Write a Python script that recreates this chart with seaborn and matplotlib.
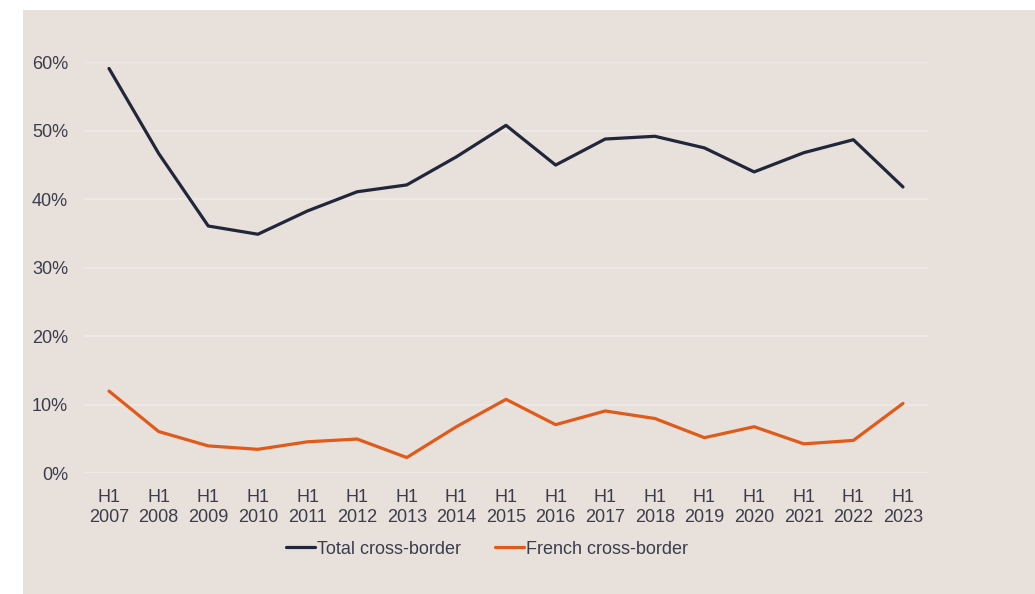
import numpy as np
import pandas as pd
import matplotlib
matplotlib.use("Agg")
import matplotlib.pyplot as plt
import seaborn as sns
from matplotlib.lines import Line2D

years = ["2007", "2008", "2009", "2010", "2011", "2012", "2013", "2014", "2015",
         "2016", "2017", "2018", "2019", "2020", "2021", "2022", "2023"]
tick_labels = ["H1\n" + y for y in years]
total_cross_border = [59.1, 46.7, 36.1, 34.9, 38.3, 41.1, 42.1, 46.2, 50.8,
                      45.0, 48.8, 49.2, 47.5, 44.0, 46.8, 48.7, 41.8]
french_cross_border = [12.0, 6.1, 4.0, 3.5, 4.6, 5.0, 2.3, 6.8, 10.8,
                       7.1, 9.1, 8.0, 5.2, 6.8, 4.3, 4.8, 10.2]
series_names = ["Total cross-border", "French cross-border"]
y_ticks = [0, 10, 20, 30, 40, 50, 60]

BG = "#E7E0DB"
NAVY = "#22263A"
ORANGE = "#E05A1A"
TEXT = "#3C3D4C"
GRID = "#EEEAE6"

df = pd.DataFrame({
    "idx": list(range(len(years))) * 2,
    "value": total_cross_border + french_cross_border,
    "series": [series_names[0]] * len(years) + [series_names[1]] * len(years),
})

sns.set_theme(style="white")
plt.rcParams["font.family"] = ["Liberation Sans", "DejaVu Sans"]

fig = plt.figure(figsize=(10.35, 5.94), dpi=100, facecolor="white")
# beige panel (white strip at top and left)
fig.patches.append(plt.Rectangle((23 / 1035, 0), 1 - 23 / 1035, (594 - 10) / 594,
                                 transform=fig.transFigure, facecolor=BG,
                                 edgecolor="none", zorder=-10))

left = 84.2 / 1035
right = 927.8 / 1035
bottom = (594 - 473.3) / 594
top = (594 - 62.3) / 594
ax = fig.add_axes([left, bottom, right - left, top - bottom])
ax.patch.set_alpha(0)

sns.lineplot(data=df, x="idx", y="value", hue="series", hue_order=series_names,
             palette=[NAVY, ORANGE], linewidth=2.3, ax=ax, legend=False,
             clip_on=False, zorder=3)

ax.set_xlim(-0.5, len(years) - 0.5)
ax.set_ylim(0, 60)
ax.set_yticks(y_ticks)
ax.set_yticklabels([f"{v}%" for v in y_ticks])
ax.set_xticks(range(len(years)))
ax.set_xticklabels(tick_labels, linespacing=1.2)
ax.grid(axis="y", color=GRID, linewidth=1.2)
ax.grid(axis="x", visible=False)
ax.set_axisbelow(True)
for s in ax.spines.values():
    s.set_visible(False)
ax.tick_params(axis="y", length=0, pad=11.5, labelsize=13, labelcolor=TEXT)
ax.tick_params(axis="x", length=0, pad=11.5, labelsize=13, labelcolor=TEXT)
ax.set_xlabel("")
ax.set_ylabel("")

handles = [Line2D([], [], color=NAVY, linewidth=2.3),
           Line2D([], [], color=ORANGE, linewidth=2.3)]
fig.legend(handles, series_names, loc="center", bbox_to_anchor=(487 / 1035, (594 - 549) / 594),
           ncol=2, frameon=False, fontsize=13, handlelength=1.65, handletextpad=0.1,
           columnspacing=1.85, labelcolor=TEXT)

fig.savefig("out.png", dpi=100, facecolor="white")
